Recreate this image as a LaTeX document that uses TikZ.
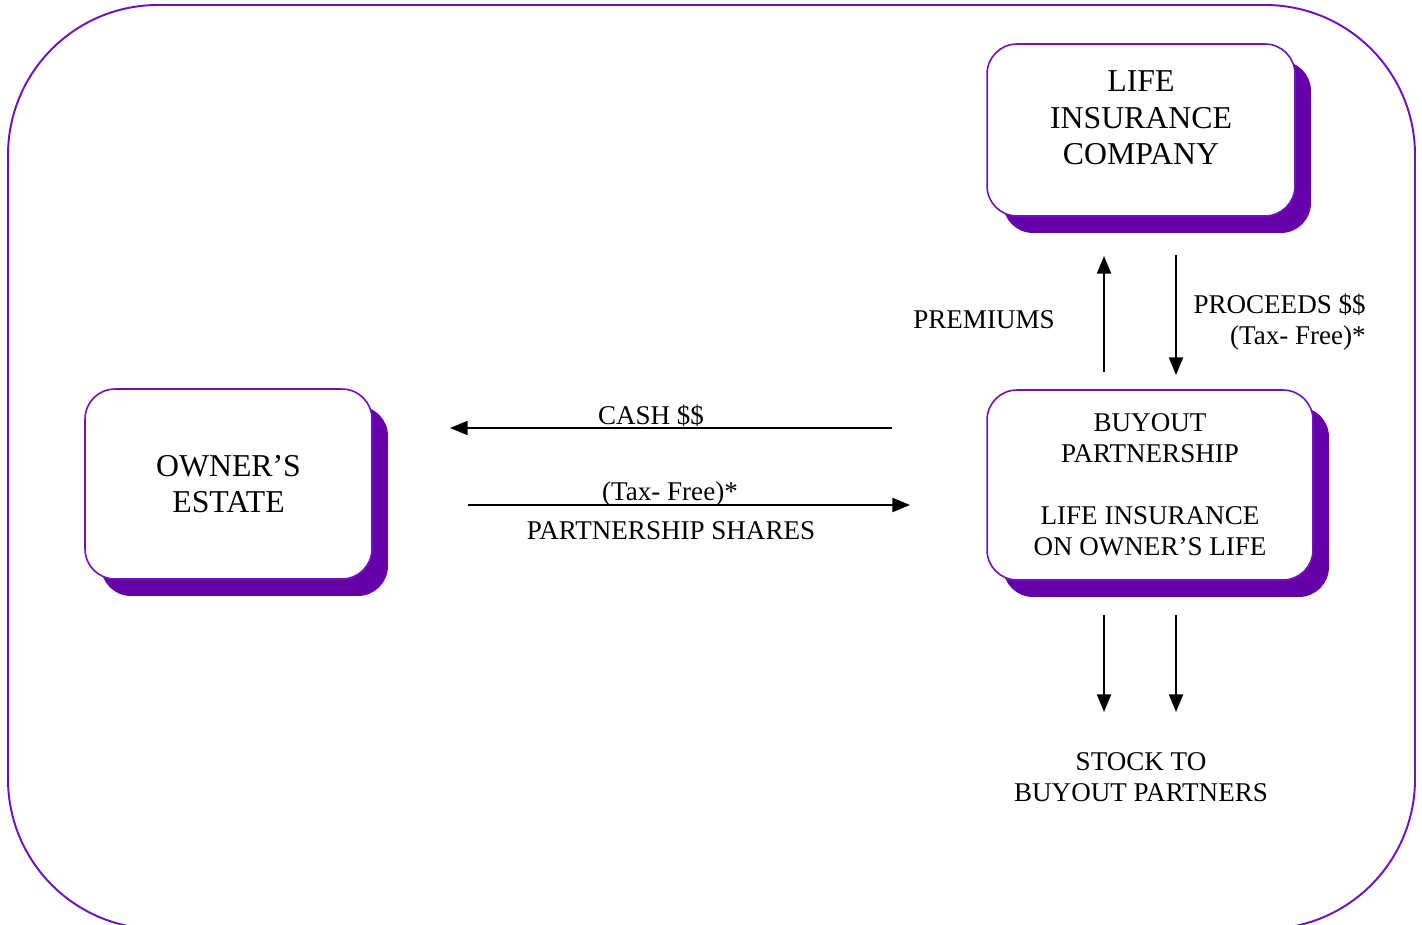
\documentclass[tikz,border=0pt]{standalone}
\usepackage{fontspec}
\setmainfont{Liberation Serif}
\usetikzlibrary{arrows.meta,positioning,shadows}
\definecolor{planPurple}{RGB}{112,16,192}
\definecolor{shadePurple}{RGB}{102,0,170}
\newcommand{\bigtext}{\fontsize{18.1}{20.8}\selectfont}
\newcommand{\smalltext}{\fontsize{15.4}{17.6}\selectfont}
\tikzset{
  planbox/.style={draw=planPurple,line width=0.9pt,fill=white,rounded corners=0.6cm,
    drop shadow={shadow xshift=0.32cm,shadow yshift=-0.34cm,fill=shadePurple,opacity=1},
    align=center,inner sep=0pt},
  flow/.style={-{Triangle[length=10pt,width=8pt]},line width=1pt},
  tag/.style={font=\smalltext,inner sep=0pt,align=center}
}

\begin{document}
\begin{tikzpicture}[x=0.02cm,y=-0.02cm]
  \clip (0,0) rectangle (1422,925);
  \draw[planPurple,line width=1.1pt,rounded corners=3cm] (8,5) rectangle (1415,929);

  \node[planbox,minimum width=6.16cm,minimum height=3.44cm] (life) at (1141,130) {};
  \node[font=\bigtext,align=center,inner sep=0pt] (lifetxt) at (1141,118) {LIFE\\INSURANCE\\COMPANY};
  \node[planbox,minimum width=5.74cm,minimum height=3.8cm,font=\bigtext] (estate) at (228.5,484) {OWNER’S\\ESTATE};
  \node[planbox,minimum width=6.52cm,minimum height=3.8cm,font=\smalltext] (buyout) at (1150,485)
    {BUYOUT\\PARTNERSHIP\\[17.6pt]LIFE INSURANCE\\ON OWNER’S LIFE};

  \coordinate (premA) at (1104,372);
  \coordinate (premB) at (1104,256);
  \coordinate (procA) at (1176,255);
  \coordinate (procB) at (1176,375);
  \coordinate (cashA) at (892,428);
  \coordinate (cashB) at (450,428);
  \coordinate (shareA) at (468,505);
  \coordinate (shareB) at (910,505);
  \coordinate (stockA) at (1104,615);
  \coordinate (stockB) at (1104,712);
  \coordinate (stockC) at (1176,615);
  \coordinate (stockD) at (1176,712);

  \draw[flow] (premA) -- (premB);
  \draw[flow] (procA) -- (procB);
  \draw[flow] (cashA) -- (cashB);
  \draw[flow] (shareA) -- (shareB);
  \draw[flow] (stockA) -- (stockB);
  \draw[flow] (stockC) -- (stockD);

  \node[tag] (premtxt) at (984,320) {PREMIUMS};
  \node[tag,anchor=east,align=right] (proctxt) at (1366,322) {PROCEEDS \$\$\\(Tax- Free)*};
  \node[tag] (cashtxt) at (651,416) {CASH \$\$};
  \node[tag] (taxtxt) at (670,494) {(Tax- Free)*};
  \node[tag] (sharetxt) at (671,531) {PARTNERSHIP SHARES};
  \node[tag] (stocktxt) at (1141,777) {STOCK TO\\BUYOUT PARTNERS};
\end{tikzpicture}
\end{document}
